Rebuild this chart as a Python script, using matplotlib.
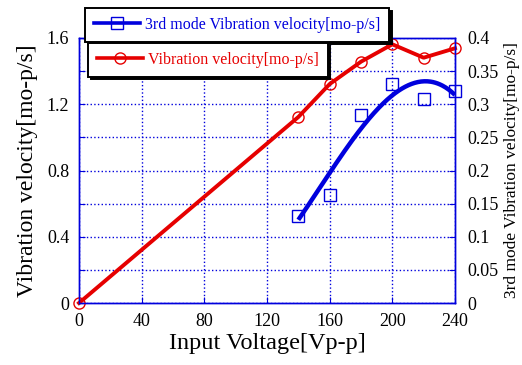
import numpy as np
import matplotlib.pyplot as plt
from matplotlib.lines import Line2D

# input voltage [Vp-p] and velocities
voltage = [0, 140, 160, 180, 200, 220, 240]
velocity = [0, 1.123, 1.322, 1.457, 1.562, 1.481, 1.538]

volt_3rd = [140, 160, 180, 200, 220, 240]
velocity_3rd = [0.132, 0.163, 0.284, 0.330, 0.308, 0.320]

# trend curve of the 3rd mode, read at 10 V steps
curve_x = [140, 150, 160, 170, 180, 190, 200, 210, 220, 230, 240]
curve_y = [0.123, 0.163, 0.201, 0.229, 0.260, 0.289, 0.315, 0.330, 0.335, 0.331, 0.313]

left_ticks = [0, 0.2, 0.4, 0.6, 0.8, 1.0, 1.2, 1.4, 1.6]
left_labels = ['0', '', '0.4', '', '0.8', '', '1.2', '', '1.6']
right_ticks = [0, 0.05, 0.1, 0.15, 0.2, 0.25, 0.3, 0.35, 0.4]
right_labels = ['0', '0.05', '0.1', '0.15', '0.2', '0.25', '0.3', '0.35', '0.4']
x_ticks = [0, 40, 80, 120, 160, 200, 240]

RED = '#e60000'
BLUE = '#0000dd'

plt.rcParams['font.family'] = ['Liberation Serif', 'DejaVu Serif']
plt.rcParams['font.size'] = 13

fig = plt.figure(figsize=(5.22, 3.65), dpi=100)
ax1 = fig.add_axes([79/522, 62/365, 376/522, 265/365])
ax2 = ax1.twinx()

# smooth trend line through the read curve points
coef = np.polyfit(curve_x, curve_y, 3)
xs = np.linspace(curve_x[0], curve_x[-1], 200)

ax1.plot(voltage, velocity, color=RED, lw=2.8, marker='o', ms=8,
         mfc='none', mec=RED, mew=1, clip_on=False, zorder=3)
ax2.plot(xs, np.polyval(coef, xs), color=BLUE, lw=3.2, solid_capstyle='butt', zorder=3)
ax2.plot(volt_3rd, velocity_3rd, ls='none', marker='s', ms=9,
         mfc='none', mec=BLUE, mew=1, clip_on=False, zorder=3)

ax1.set_xlim(0, 240)
ax1.set_ylim(0, 1.6)
ax2.set_ylim(0, 0.4)
ax1.set_xticks(x_ticks)
ax1.set_yticks(left_ticks)
ax1.set_yticklabels(left_labels)
ax2.set_yticks(right_ticks)
ax2.set_yticklabels(right_labels)

ax1.xaxis.grid(True, ls=':', color=BLUE, lw=1)
ax1.yaxis.grid(True, ls=':', color=BLUE, lw=1)
ax1.set_axisbelow(True)

for ax in (ax1, ax2):
    for sp in ax.spines.values():
        sp.set_color(BLUE)
        sp.set_linewidth(1)
    ax.tick_params(direction='in', color=BLUE, length=4, pad=7)
ax1.tick_params(axis='x', top=True)
ax2.tick_params(axis='y', pad=9)

ax1.set_xlabel('Input Voltage[Vp-p]', fontsize=17.5, labelpad=2)
ax1.set_ylabel('Vibration velocity[mo-p/s]', fontsize=17, labelpad=6)
ax2.set_ylabel('3rd mode Vibration velocity[mo-p/s]', fontsize=12.5, labelpad=4)

h_blue = Line2D([], [], color=BLUE, lw=2.6, marker='s', ms=9, mfc='none', mec=BLUE, mew=1)
h_red = Line2D([], [], color=RED, lw=2.6, marker='o', ms=8, mfc='none', mec=RED, mew=1)

leg_style = dict(loc='upper left', fancybox=False, framealpha=1, edgecolor='black',
                 shadow={'color': 'black', 'alpha': 1}, handlelength=2.9,
                 borderpad=0.55, handletextpad=0.3, fontsize=11.5, borderaxespad=0)
leg1 = fig.legend([h_blue], ['3rd mode Vibration velocity[mo-p/s]'],
                  bbox_to_anchor=(85/522, 1 - 8/365), labelcolor=[BLUE], **leg_style)
leg2 = fig.legend([h_red], ['Vibration velocity[mo-p/s]'],
                  bbox_to_anchor=(88/522, 1 - 43/365), labelcolor=[RED], **leg_style)
for leg in (leg1, leg2):
    leg.get_frame().set_linewidth(1.4)

fig.savefig('out.png', dpi=100)
